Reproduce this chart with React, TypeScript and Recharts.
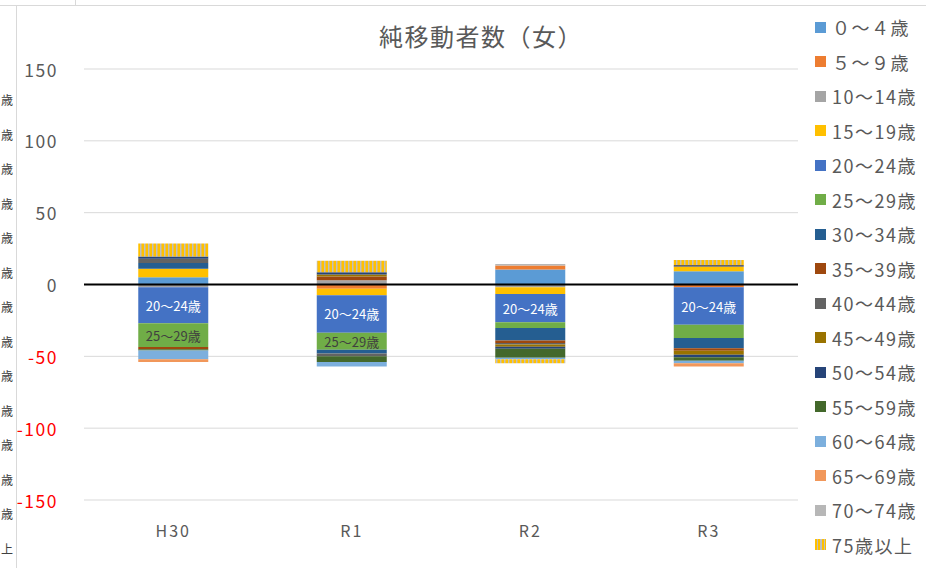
import { BarChart, Bar, XAxis, YAxis, CartesianGrid, ReferenceLine, Legend, LabelList } from "recharts";

const FONT = "'Noto Sans CJK JP', 'Noto Sans', sans-serif";

const categories = ["H30", "R1", "R2", "R3"];

const ageGroups = [
  "０～４歳", "５～９歳", "10～14歳", "15～19歳", "20～24歳", "25～29歳", "30～34歳", "35～39歳",
  "40～44歳", "45～49歳", "50～54歳", "55～59歳", "60～64歳", "65～69歳", "70～74歳", "75歳以上",
];

// values per age group, one per year (H30, R1, R2, R3)
const age00_04 = [5, 0, 10.5, 9.3];
const age05_09 = [0, -3, 2.8, -2];
const age10_14 = [-2, 3, -2, 0];
const age15_19 = [6, -4.5, -4.6, 3];
const age20_24 = [-25, -26, -19.7, -26];
const age25_29 = [-16.5, -12, -4, -9.3];
const age30_34 = [4, -2.5, -8.6, -7];
const age35_39 = [-1.5, 2.5, -1.8, -1.8];
const age40_44 = [3, -2, -1, 1.2];
const age45_49 = [0, 1.5, -1.6, -2.8];
const age50_54 = [1.5, 1.5, -1.4, -1.8];
const age55_59 = [-1, -4, -6.3, -2.3];
const age60_64 = [-6, -3, -1, -1.8];
const age65_69 = [-2, 0, 0, -2.3];
const age70_74 = [0, 0, 1, 0];
const age75_up = [9, 8, -2.8, 3.5];

const yTicks = [-150, -100, -50, 0, 50, 100, 150];

const seriesValues = [
  age00_04, age05_09, age10_14, age15_19, age20_24, age25_29, age30_34, age35_39,
  age40_44, age45_49, age50_54, age55_59, age60_64, age65_69, age70_74, age75_up,
];

const COLORS = [
  "#5B9BD5", "#ED7D31", "#A5A5A5", "#FFC000", "#4472C4", "#70AD47", "#255E91", "#9E480E",
  "#636363", "#997300", "#264478", "#43682B", "#7CAFDD", "#F1975A", "#B7B7B7", "url(#stripe75)",
];

const data = categories.map((name, i) => {
  const row: Record<string, string | number> = { name };
  ageGroups.forEach((g, j) => {
    row["s" + j] = seriesValues[j][i];
  });
  return row;
});

const renderYTick = (props: any) => {
  const v = props.payload.value;
  return (
    <text x={58} y={props.y} textAnchor="end" dominantBaseline="central" fontSize={17.5} letterSpacing={1.5}
      fill={v < 0 ? "#FF0000" : "#595959"} fontFamily={FONT}>
      {v}
    </text>
  );
};

const renderXTick = (props: any) => (
  <text x={props.x} y={530} textAnchor="middle" dominantBaseline="central" fontSize={16} letterSpacing={2}
    fill="#595959" fontFamily={FONT}>
    {props.payload.value}
  </text>
);

const segLabel = (name: string, color: string, minVal: number) => (props: any) => {
  const { x, y, width, height, value } = props;
  if (Math.abs(value) < minVal) return null;
  return (
    <text x={x + width / 2} y={y + height / 2} textAnchor="middle" dominantBaseline="central"
      fontSize={13} fill={color} fontFamily={FONT}>
      {name}
    </text>
  );
};

const renderLegend = () => (
  <div style={{ fontFamily: FONT }}>
    {ageGroups.map((g, i) => (
      <div key={g} style={{ height: 34.5, display: "flex", alignItems: "center" }}>
        <div style={{
          width: 11, height: 11, marginRight: 6, flexShrink: 0,
          background: i === 15
            ? "repeating-linear-gradient(90deg, #FFC000 0 2px, #BFBFBF 2px 3.5px)"
            : COLORS[i],
        }} />
        <span style={{ fontSize: 18, letterSpacing: 1.5, color: "#595959", whiteSpace: "nowrap" }}>{g}</span>
      </div>
    ))}
  </div>
);

const leftMarks = Array.from({ length: 14 }, (_, i) => (i === 13 ? "上" : "歳"));

export default function App() {
  return (
    <div style={{ position: "absolute", left: 0, top: 0, width: 926, height: 568, background: "#fff", overflow: "hidden", fontFamily: FONT }}>
      <svg width={0} height={0} style={{ position: "absolute" }}>
        <defs>
          <pattern id="stripe75" width="4" height="4" patternUnits="userSpaceOnUse">
            <rect width="4" height="4" fill="#FFC000" />
            <rect width="1.5" height="4" fill="#BFBFBF" />
          </pattern>
        </defs>
      </svg>
      <BarChart width={926} height={568} data={data} stackOffset="sign"
        margin={{ top: 69, right: 128, bottom: 0, left: 0 }} barCategoryGap="30.4%">
        <CartesianGrid vertical={false} stroke="#D9D9D9" />
        <XAxis dataKey="name" axisLine={false} tickLine={false} height={68} tick={renderXTick} interval={0} />
        <YAxis domain={[-150, 150]} ticks={yTicks} axisLine={false} tickLine={false} width={84} tick={renderYTick} />
        {ageGroups.map((g, j) => (
          <Bar key={g} dataKey={"s" + j} name={g} stackId="a" fill={COLORS[j]} isAnimationActive={false}>
            {j === 4 && <LabelList dataKey={"s" + j} content={segLabel("20～24歳", "#FFFFFF", 0)} />}
            {j === 5 && <LabelList dataKey={"s" + j} content={segLabel("25～29歳", "#404040", 10)} />}
          </Bar>
        ))}
        <ReferenceLine y={0} stroke="#000000" strokeWidth={2} />
        <Legend layout="horizontal" verticalAlign="middle" align="center" content={renderLegend}
          wrapperStyle={{ left: 815, top: 10, width: 111, height: 560 }} />
      </BarChart>

      {/* spreadsheet borders behind the chart */}
      <div style={{ position: "absolute", left: 16, top: 5, right: 0, bottom: 0, borderTop: "1px solid #D9D9D9", borderLeft: "1px solid #D9D9D9", pointerEvents: "none" }} />
      <div style={{ position: "absolute", left: 0, top: 0, width: 75, height: 5, borderRight: "1px solid #D9D9D9", borderBottom: "1px solid #D9D9D9" }} />
      {leftMarks.map((c, i) => (
        <div key={i} style={{ position: "absolute", left: 1, top: 100 + 34.5 * i - 9, fontSize: 12, lineHeight: "18px", color: "#404040" }}>{c}</div>
      ))}

      <div style={{ position: "absolute", left: 379, top: 19, fontSize: 24, letterSpacing: 1.5, color: "#595959", whiteSpace: "nowrap", lineHeight: "34px" }}>
        純移動者数（女）
      </div>
    </div>
  );
}
